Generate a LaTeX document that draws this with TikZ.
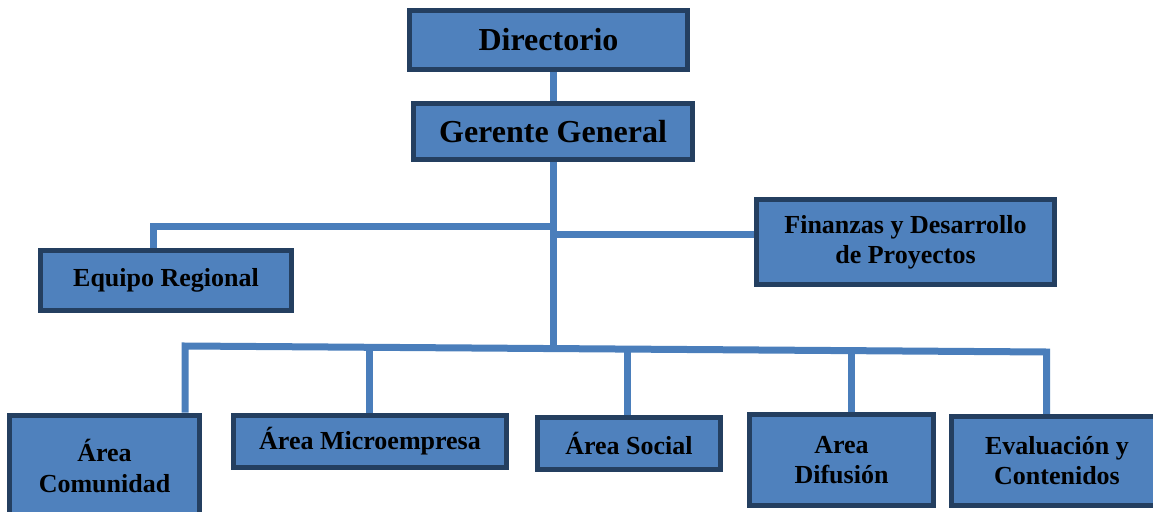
\documentclass[tikz,border=0pt]{standalone}
\usepackage{fontspec}
\setmainfont{Liberation Serif}
\usetikzlibrary{calc}
\usetikzlibrary{backgrounds}
\definecolor{boxfill}{HTML}{4F81BD}
\definecolor{boxline}{HTML}{243F60}
\definecolor{linkblue}{HTML}{4A7EBB}
\tikzset{x=1pt, y=-1pt, % one unit is one pixel of the chart, y runs down
box/.style={ % Sets the properties for each unit box
draw=boxline,
fill=boxfill,
line width=5pt,
inner sep=0pt,
align=center,
font=\bfseries\fontsize{26}{30}\selectfont},
bigbox/.style={ % The two boxes at the top
box,
font=\bfseries\fontsize{32}{36}\selectfont},
link/.style={ % Sets the properties for each connector
draw=linkblue,
line width=7pt}}
\begin{document}
\begin{tikzpicture}
				\useasboundingbox (0,0) rectangle (1153,511);

				\node[bigbox, minimum width=278pt, minimum height=59pt] (dir) at (548.5,40) {Directorio};
				\node[bigbox, minimum width=279pt, minimum height=56pt] (gg) at (553,131.5) {Gerente General};
				\node[box, minimum width=251pt, minimum height=60pt] (eq) at (166,280.5) {Equipo Regional};
				\node[box, minimum width=298pt, minimum height=85pt] (fin) at (905.5,242) {Finanzas y Desarrollo\\de Proyectos};
				\node[box, minimum width=190pt, minimum height=102pt] (com) at (104.5,466) {Área\\Comunidad};
				\node[box, minimum width=273pt, minimum height=52pt] (mic) at (370,441.5) {Área Microempresa};
				\node[box, minimum width=183pt, minimum height=52pt] (soc) at (629,443.5) {Área Social};
				\node[box, minimum width=184pt, minimum height=91pt] (dif) at (841.5,460) {Area\\Difusión};
				\node[box, minimum width=211pt, minimum height=89pt] (eva) at (1057,461) {Evaluación y\\Contenidos};

				% the bus under the trunk runs a little downhill
				\coordinate (ej) at (553,226.5);
				\coordinate (bl) at (185,346);
				\coordinate (br) at (1046.5,352);
				\coordinate (tgg) at ($(bl)!(gg.south)!(br)$);
				\coordinate (tmic) at ($(bl)!([xshift=-1pt]mic.north)!(br)$);
				\coordinate (tsoc) at ($(bl)!([xshift=-2pt]soc.north)!(br)$);
				\coordinate (tdif) at ($(bl)!([xshift=9.5pt]dif.north)!(br)$);

				\begin{scope}[on background layer]
				\draw[link] (gg.north) -- (gg.north |- dir.south);
				\draw[link] (gg.south) -- (gg.south |- tgg);
				\draw[link] (ej) -| ([xshift=-13pt]eq.north);
				\draw[link] ([yshift=7.5pt]fin.west) -- ([yshift=7.5pt]ej |- fin.west);

				\draw[link] ([xshift=80.5pt]com.north) -- (bl) -- (br) -- ([xshift=-10.5pt]eva.north);
				\draw[link] ([xshift=-1pt]mic.north) -- ([xshift=-1pt]mic.north |- tmic);
				\draw[link] ([xshift=-2pt]soc.north) -- ([xshift=-2pt]soc.north |- tsoc);
				\draw[link] ([xshift=9.5pt]dif.north) -- ([xshift=9.5pt]dif.north |- tdif);
				\end{scope}
			\end{tikzpicture}
\end{document}
